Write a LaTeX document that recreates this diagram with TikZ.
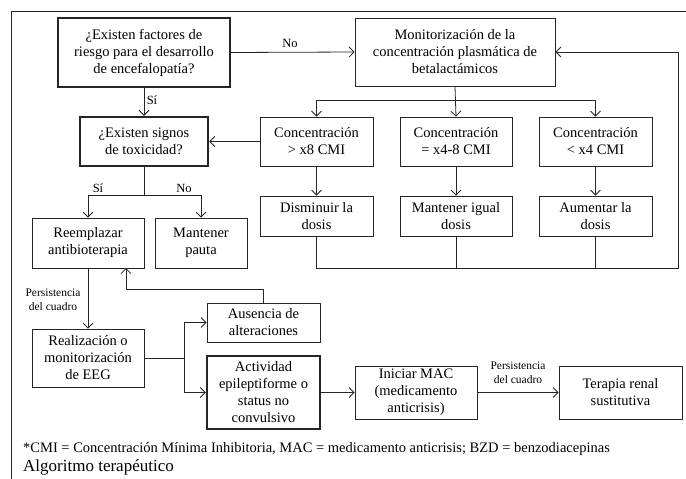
\documentclass[tikz,border=0pt]{standalone}
\usepackage{fontspec}
\setmainfont{Liberation Serif}
\usetikzlibrary{arrows.meta}
\begin{document}
\begin{tikzpicture}[x=1pt,y=-1pt,
  box/.style={draw=black!85, line width=0.8pt, align=center, inner sep=1pt,
    font=\fontsize{14.5}{17}\selectfont},
  thickbox/.style={box, line width=2.4pt},
  conn/.style={draw=black!85, line width=0.8pt},
  arr/.style={conn, -{Straight Barb[length=5pt,width=10pt,line width=0.8pt]}},
  lbl/.style={font=\fontsize{12.5}{14}\selectfont, inner sep=1pt},
  slbl/.style={font=\fontsize{11.5}{14}\selectfont, align=center, inner sep=1pt}]
\useasboundingbox (0,0) rectangle (686,479);
% frame
\coordinate (fb) at (11,479);
\coordinate (ftl) at (11,11);
\coordinate (fr) at (686,11);
\draw[conn] (fb) -- (ftl) -- (fr);
% boxes
\node[thickbox, minimum width=172, minimum height=69] (A) at (144,52.5) {¿Existen factores de\\riesgo para el desarrollo\\de encefalopatía?};
\node[box, minimum width=200, minimum height=68] (B) at (455,52) {Monitorización de la\\concentración plasmática de\\betalactámicos};
\node[thickbox, minimum width=128, minimum height=49] (S) at (144,141.5) {¿Existen signos\\de toxicidad?};
\node[box, minimum width=113, minimum height=49] (C1) at (316.5,141.5) {Concentración\\> x8 CMI};
\node[box, minimum width=112, minimum height=49] (C2) at (456,141.5) {Concentración\\= x4-8 CMI};
\node[box, minimum width=113, minimum height=49] (C3) at (595.5,141.5) {Concentración\\< x4 CMI};
\node[box, minimum width=113, minimum height=40] (D1) at (316.5,216) {Disminuir la\\dosis};
\node[box, minimum width=112, minimum height=40] (D2) at (456,216) {Mantener igual\\dosis};
\node[box, minimum width=113, minimum height=40] (D3) at (595.5,216) {Aumentar la\\dosis};
\node[box, minimum width=112, minimum height=50] (R) at (88,243) {Reemplazar\\antibioterapia};
\node[box, minimum width=92, minimum height=50] (P) at (201,243) {Mantener\\pauta};
\node[box, minimum width=112, minimum height=58] (E) at (88,358) {Realización o\\monitorización\\de EEG};
\node[box, minimum width=113, minimum height=39] (Au) at (263.5,322.5) {Ausencia de\\alteraciones};
\node[thickbox, minimum width=113, minimum height=73] (Ac) at (263.5,392.5) {Actividad\\epileptiforme o\\status no\\convulsivo};
\node[box, minimum width=122, minimum height=53] (M) at (416,392.5) {Iniciar MAC\\(medicamento\\anticrisis)};
\node[box, minimum width=123, minimum height=53] (T) at (620.5,392.5) {Terapia renal\\sustitutiva};
% top connectors
\draw[arr] (A.east) -- (B.west);
\node[lbl] (no1) at (290,43) {No};
\draw[arr] (A.south) -- (S.north);
\node[lbl] (si1) at (152,100) {Sí};
\coordinate (bs) at (456,100);
\draw[arr] (B.south) -- (C2.north);
\draw[arr] (bs) -| (C1.north);
\draw[arr] (bs) -| (C3.north);
\draw[arr] (C1.south) -- (D1.north);
\draw[arr] (C2.south) -- (D2.north);
\draw[arr] (C3.south) -- (D3.north);
\draw[arr] (C1.west) -- (S.east);
% feedback loop
\coordinate (loopR) at (678,268);
\draw[arr] (D1.south) |- (loopR) |- (B.east);
\draw[conn] (D2.south) -- (D2.south |- loopR);
\draw[conn] (D3.south) -- (D3.south |- loopR);
% toxicity split
\coordinate (ss) at (144,195);
\draw[conn] (S.south) -- (ss);
\draw[arr] (ss) -| (R.north);
\draw[arr] (ss) -| (P.north);
\node[lbl] (si2) at (98,188) {Sí};
\node[lbl] (no2) at (184,188) {No};
% persistence
\draw[arr] (R.south) -- (E.north);
\node[slbl] (pers1) at (53,300) {Persistencia\\del cuadro};
\coordinate (es) at (184,358);
\draw[conn] (E.east) -- (es);
\draw[arr] (es) |- (Au.west);
\draw[arr] (es) |- (Ac.west);
\coordinate (rin) at (126,268);
\coordinate (aut) at (263.5,289);
\draw[arr] (Au.north) -- (aut) -| (rin);
\draw[arr] (Ac.east) -- (M.west);
\draw[arr] (M.east) -- (T.west);
\node[slbl] (pers2) at (518,373) {Persistencia\\del cuadro};
% footnotes
\node[anchor=west, inner sep=0pt, font=\fontsize{14.5}{16}\selectfont] (fn) at (23,449) {*CMI = Concentración Mínima Inhibitoria, MAC = medicamento anticrisis; BZD = benzodiacepinas};
\node[anchor=west, inner sep=0pt, font=\fontsize{17}{19}\selectfont] (cap) at (23,467) {Algoritmo terapéutico};
\end{tikzpicture}
\end{document}
